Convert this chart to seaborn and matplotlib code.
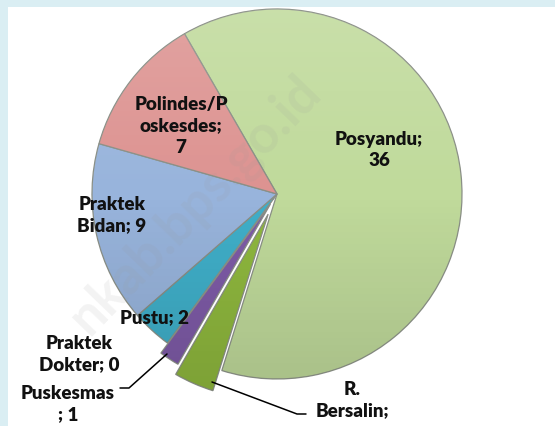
import matplotlib
matplotlib.use('Agg')
import numpy as np
import matplotlib.pyplot as plt
import seaborn as sns

# Data
categories = ['Posyandu', 'R. Bersalin', 'Puskesmas', 'Praktek Dokter',
              'Pustu', 'Praktek Bidan', 'Polindes/Poskesdes']
values = [36, 2, 1, 0, 2, 9, 7]
# the value line of "R. Bersalin" falls outside the picture in the reference
label_texts = ['Posyandu;\n36', 'R.\nBersalin;', 'Puskesmas\n; 1',
               'Praktek\nDokter; 0', 'Pustu; 2', 'Praktek\nBidan; 9',
               'Polindes/P\noskesdes;\n7']

sns.set_style('white')
plt.rcParams['font.family'] = ['Lato', 'DejaVu Sans']

colors = ['#C0DA9B', '#8FB83E', '#7E5BA7', '#7E5BA7',
          '#40AFC9', '#98B4DC', '#DD9391']
explode = [0, 22, 12, 0, 0, 0, 0]   # pixel offsets

W, H = 555, 427
fig = plt.figure(figsize=(W / 100, H / 100), dpi=100)
fig.patch.set_facecolor('#DAEEF3')
ax = fig.add_axes([8 / W, 0, (W - 8) / W, (H - 8) / H])

# axes in pixel units, y pointing up
cx, cy, r = 277, 427 - 195, 185
wedges, _ = ax.pie(values, colors=colors, explode=explode, startangle=120,
                   counterclock=False, radius=r, center=(cx, cy),
                   wedgeprops=dict(edgecolor='#8a8f86', linewidth=0.9))

# soft top-light / bottom-dark shading like the office style
grad = np.zeros((256, 1, 4))
t = np.linspace(0, 1, 256)
grad[:, 0, :3] = np.where(t[:, None] < 0.5, 1.0, 0.0)
grad[:, 0, 3] = np.where(t < 0.5, 0.18 * (0.5 - t) * 2, 0.14 * (t - 0.5) * 2)
for w in wedges:
    im = ax.imshow(grad, extent=(cx - r - 40, cx + r + 40, cy - r - 40, cy + r + 40),
                   origin='upper', aspect='auto', interpolation='bilinear', zorder=1.5)
    im.set_clip_path(w)

ax.set_xlim(8, W)
ax.set_ylim(0, H - 8)
ax.set_aspect('equal')
ax.set_frame_on(True)
ax.set_facecolor('white')
for s in ax.spines.values():
    s.set_visible(False)
ax.set_xticks([])
ax.set_yticks([])

# data labels (pixel positions, y measured from top)
label_pos = [(379, 150), (352, 400), (68, 404), (79, 354),
             (154, 318), (112, 215), (181, 126)]
for txt, (x, y) in zip(label_texts, label_pos):
    ax.text(x, H - y, txt, ha='center', va='center', fontsize=13.5,
            fontweight='heavy', color='#111111', linespacing=1.3, zorder=4)

# leader lines
ax.plot([120, 129, 167], [H - 389, H - 389, H - 355], color='black', lw=1.1, zorder=4)
ax.plot([212, 297, 306], [H - 383, H - 415, H - 415], color='black', lw=1.1, zorder=4)

# faint watermark
ax.text(195, H - 205, 'nkab.bps.go.id', rotation=46, ha='center',
        va='center', fontsize=38, fontweight='bold', color='#9a9a9a',
        alpha=0.12, zorder=5)

fig.savefig('out.png', dpi=100, facecolor=fig.get_facecolor())
